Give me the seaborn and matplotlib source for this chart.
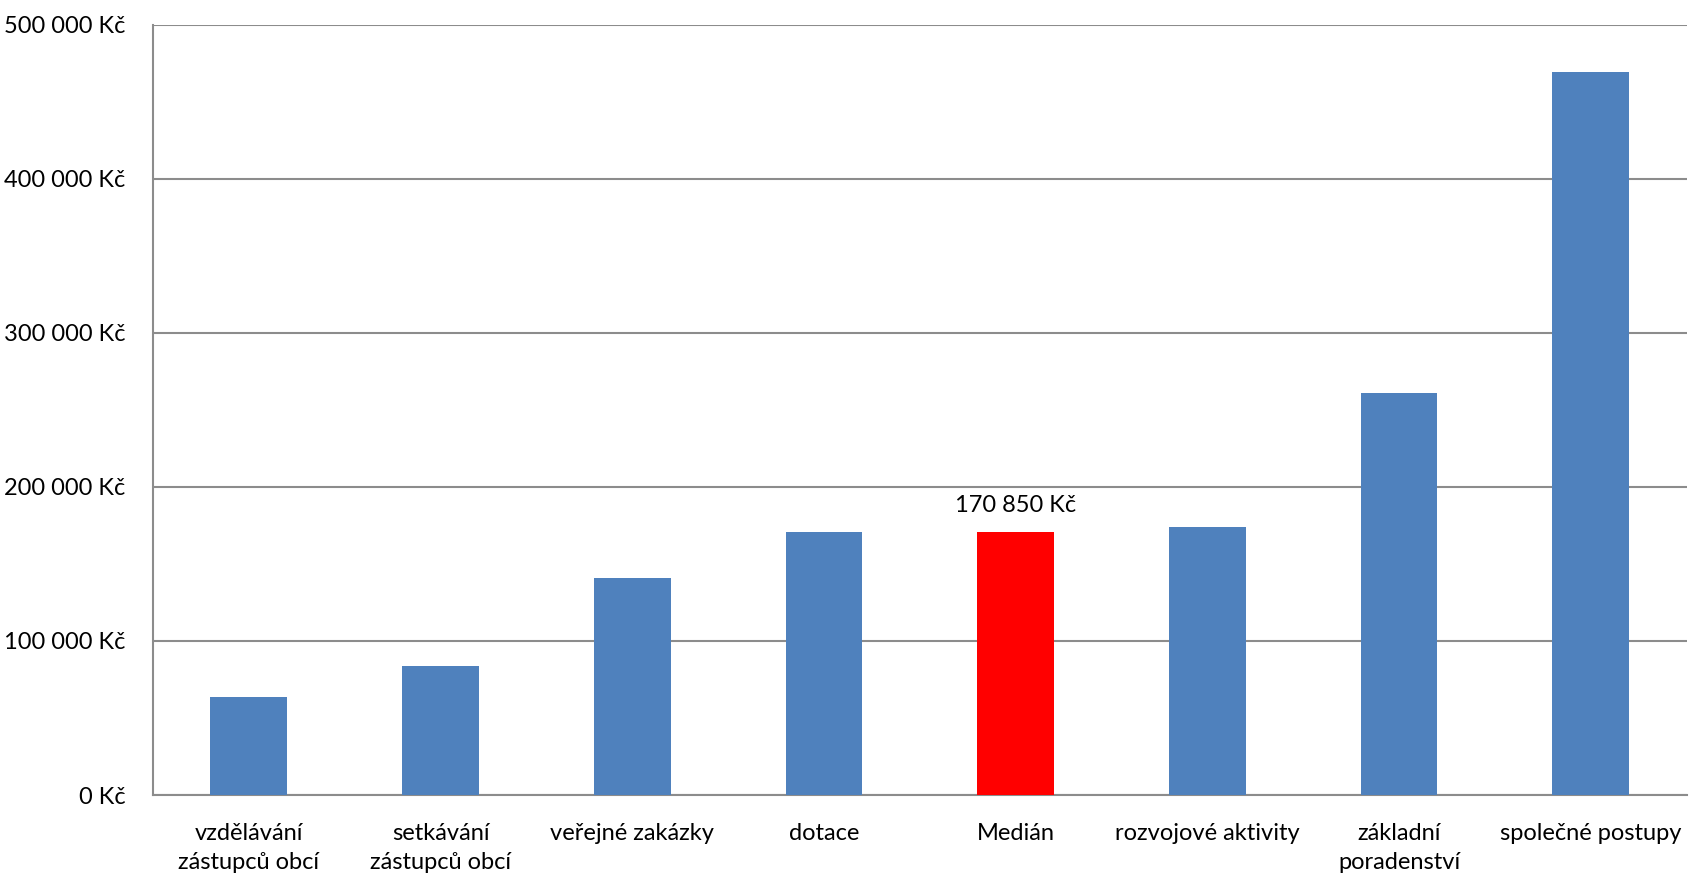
import pandas as pd
import matplotlib.pyplot as plt
import matplotlib.ticker as mticker
import seaborn as sns

# kategorie a hodnoty (Kč)
categories = ["vzdělávání\nzástupců obcí", "setkávání\nzástupců obcí", "veřejné zakázky",
              "dotace", "Medián", "rozvojové aktivity", "základní\nporadenství",
              "společné postupy"]
values = [63600, 83600, 141000, 170850, 170850, 174000, 260600, 469100]
bar_colors = ["#4F81BD", "#4F81BD", "#4F81BD", "#4F81BD", "#FF0000",
              "#4F81BD", "#4F81BD", "#4F81BD"]
median_label = "170 850 Kč"

df = pd.DataFrame({"kategorie": categories, "hodnota": values})

sns.set_theme(style="white")
plt.rcParams['font.family'] = ['Lato', 'DejaVu Sans']

grid_color = "#8C8C8C"

fig, ax = plt.subplots(figsize=(16.9, 8.75), dpi=100)
fig.subplots_adjust(left=0.0905, right=0.998, top=0.972, bottom=0.0914)

sns.barplot(data=df, x="kategorie", y="hodnota", hue="kategorie",
            palette=bar_colors, saturation=1, width=0.4, linewidth=0,
            legend=False, ax=ax, zorder=3)

# osa y
ax.set_ylim(0, 500000)
ax.set_yticks(range(0, 500001, 100000))
ax.yaxis.set_major_formatter(mticker.FuncFormatter(
    lambda v, p: f"{int(v):,} Kč".replace(",", " ")))
ax.yaxis.grid(True, color=grid_color, linewidth=1.5, zorder=0)
ax.xaxis.grid(False)

# osa x - značky mezi kategoriemi
ax.set_xlim(-0.5, len(categories) - 0.5)
ax.set_xticks(range(len(categories)))
ax.set_xticklabels(categories, fontsize=17, linespacing=1.5)
ax.set_xticks([i - 0.5 for i in range(len(categories) + 1)], minor=True)
ax.tick_params(axis="x", which="major", length=0, pad=20)
ax.tick_params(axis="x", which="minor", length=8, width=1.5, direction="out")
ax.tick_params(axis="y", length=8, width=1.5, direction="out",
               labelsize=17, pad=12)
ax.tick_params(axis="both", which="both", color=grid_color, labelcolor="black")

for side in ["top", "right"]:
    ax.spines[side].set_visible(False)
for side in ["left", "bottom"]:
    ax.spines[side].set_color(grid_color)
    ax.spines[side].set_linewidth(1.5)

ax.set_xlabel("")
ax.set_ylabel("")

# popisek mediánu
ax.text(4, values[4] + 10000, median_label, ha="center", va="bottom",
        fontsize=17, color="black")

fig.savefig("out.png", dpi=100)
